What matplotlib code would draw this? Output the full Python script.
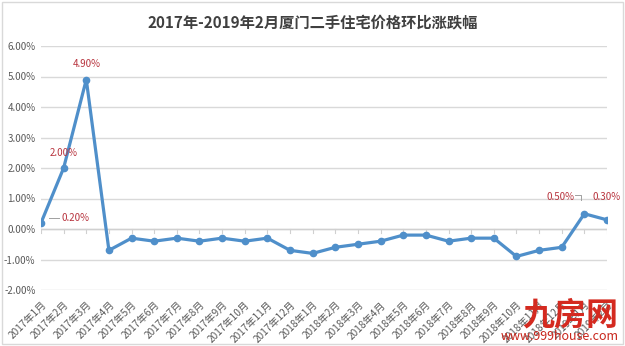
import matplotlib.pyplot as plt
from matplotlib.ticker import FuncFormatter

plt.rcParams['font.family'] = ['Noto Sans CJK SC', 'DejaVu Sans']

months = ['2017年%d月' % m for m in range(1, 13)] + \
         ['2018年%d月' % m for m in range(1, 13)] + \
         ['2019年1月', '2019年2月']
values = [0.2, 2.0, 4.9, -0.7, -0.3, -0.4, -0.3, -0.4, -0.3, -0.4, -0.3, -0.7, -0.8,
          -0.6, -0.5, -0.4, -0.2, -0.2, -0.4, -0.3, -0.3, -0.9, -0.7, -0.6, 0.5, 0.3]
labelled = {0: '0.20%', 1: '2.00%', 2: '4.90%', 24: '0.50%', 25: '0.30%'}

line_c = '#4f8fca'
red = '#b8343e'
grey = '#595959'

f = plt.figure(figsize=(6.25, 3.46), dpi=100, facecolor='white')
ax = f.add_axes([41/625, 1 - 290/346, (607-41)/625, (290-46)/346])

x = list(range(len(values)))
ax.plot(x, values, color=line_c, lw=2.3, marker='o', ms=4.5, zorder=3)

ax.set_xlim(0, len(values) - 1)
ax.set_ylim(-2, 6)
ax.set_yticks(range(-2, 7))
ax.yaxis.set_major_formatter(FuncFormatter(lambda v, p: '%.2f%%' % v))
ax.grid(axis='y', color='#d9d9d9', lw=1)
ax.set_axisbelow(True)
for s in ax.spines.values():
    s.set_visible(False)
ax.axhline(0, color='#d0d0d0', lw=1, zorder=1)
ax.tick_params(axis='y', length=0, labelsize=7, labelcolor=grey, pad=4)
ax.set_xticks(x)
ax.set_xticklabels(months, rotation=45, ha='right', rotation_mode='anchor', fontsize=7.3, color=grey)
ax.tick_params(axis='x', length=0, pad=7)
# little tick marks on the zero line
for i in x:
    ax.plot([i, i], [0, -0.12], color='#d0d0d0', lw=0.8, zorder=1)

# data labels
for i, txt in labelled.items():
    v = values[i]
    if i == 0:
        ax.annotate(txt, (i, v), xytext=(i + 0.9, v + 0.15), fontsize=7, color=red,
                    va='center', ha='left')
        ax.plot([i + 0.35, i + 0.8], [v + 0.15, v + 0.15], color='#a0a0a0', lw=0.7)
    elif i == 24:
        ax.annotate(txt, (i, v), xytext=(i - 0.45, v + 0.55), fontsize=7, color=red,
                    va='center', ha='right')
        ax.plot([i - 0.4, i - 0.15, i - 0.15], [v + 0.6, v + 0.6, v + 0.45],
                color='#a0a0a0', lw=0.7)
    elif i == 25:
        ax.annotate(txt, (i, v), xytext=(i, v + 0.75), fontsize=7, color=red,
                    va='center', ha='center')
    else:
        ax.annotate(txt, (i, v), xytext=(i, v + 0.5), fontsize=7, color=red,
                    va='center', ha='center')

f.text(0.5, 1 - 22/346, '2017年-2019年2月厦门二手住宅价格环比涨跌幅', ha='center', va='center',
       fontsize=11, fontweight='bold', color='#404040')

# watermark
f.text(0.99, 1 - 316/346, '九房网', ha='right', va='center', fontsize=23,
       fontweight='bold', color='#d42a20')
f.text(0.99, 1 - 337/346, 'www.999house.com', ha='right', va='center', fontsize=9,
       color='#c8261c')

# outer frame
f.patches.append(plt.Rectangle((0.003, 0.005), 0.994, 0.99, transform=f.transFigure,
                               fill=False, ec='#d9d9d9', lw=1))

f.savefig('out.png', dpi=100, facecolor='white')
